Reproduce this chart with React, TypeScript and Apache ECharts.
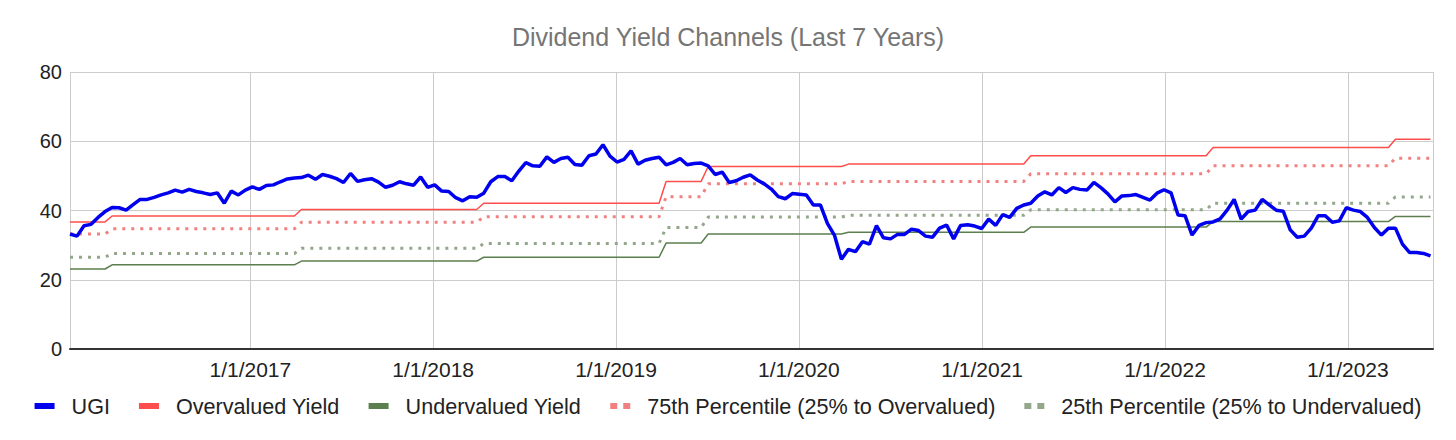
import React, { useEffect, useRef } from "react";
import * as echarts from "echarts";

// UGI dividend yield, one reading every 14 days starting 2016-01-07
const ugiStart = [2016, 0, 7];
const ugiStepDays = 14;
const ugiYield = [
  33.2, 32.6, 35.6, 36.0, 38.0, 39.7, 40.9, 40.8, 40.1, 41.7, 43.2, 43.2, 43.8, 44.5, 45.1, 45.9, 45.3, 46.1, 45.5, 45.1, 44.6, 45.1, 42.1, 45.6, 44.5, 45.9, 46.8,
  46.1, 47.2, 47.4, 48.3, 49.1, 49.4, 49.5, 50.2, 49.0, 50.4, 49.9, 49.2, 48.1, 50.7, 48.4, 48.9, 49.2, 48.2, 46.7, 47.3, 48.3, 47.7, 47.3, 49.7, 46.7, 47.4,
  45.6, 45.5, 43.7, 42.8, 44.0, 43.8, 45.0, 48.3, 49.8, 49.8, 48.6, 51.4, 53.8, 52.9, 52.8, 55.5, 53.9, 55.0, 55.4, 53.3, 53.1, 55.8, 56.3, 59.0, 55.7, 54.0,
  54.8, 57.2, 53.4, 54.5, 55.0, 55.4, 53.2, 53.9, 55.0, 53.2, 53.6, 53.7, 52.9, 50.4, 51.1, 48.1, 48.6, 49.6, 50.3, 48.8, 47.7, 46.2, 44.0, 43.4, 44.9, 44.7,
  44.5, 41.6, 41.6, 36.3, 32.9, 25.9, 28.8, 28.1, 31.0, 30.3, 35.6, 32.1, 31.8, 33.1, 33.1, 34.6, 34.2, 32.6, 32.3, 34.9, 35.8, 31.8, 35.7, 35.9, 35.5, 34.8,
  37.5, 35.7, 38.8, 38.0, 40.6, 41.6, 42.1, 44.2, 45.4, 44.5, 46.6, 45.2, 46.6, 46.1, 45.9, 48.1, 46.6, 44.8, 42.5, 44.2, 44.3, 44.6, 43.8, 43.0, 45.0, 46.0,
  45.1,
  38.7, 38.5, 32.9, 35.7, 36.5, 36.7, 37.6, 40.1, 43.2, 37.5, 39.7, 40.1, 43.2, 41.6, 40.1, 39.8, 34.4, 32.3, 32.6, 34.9, 38.5, 38.5, 36.6, 37.0, 40.8, 40.1,
  39.7, 38.0, 35.1, 32.9, 34.9, 34.9, 30.3, 27.9, 27.9, 27.6, 26.9,
];

// Channel levels: each level holds from levelStarts[i] to levelEnds[i]
const levelStarts = ["2016-01-07", "2016-03-31", "2017-04-13", "2018-04-12", "2019-04-11", "2019-07-04", "2020-04-09", "2021-04-08", "2022-04-07", "2023-04-06"];
const levelEnds = ["2016-03-17", "2017-03-30", "2018-03-29", "2019-03-28", "2019-06-20", "2020-03-26", "2021-03-25", "2022-03-24", "2023-03-23", "2023-06-15"];
const overvaluedYield = [36.7, 38.4, 40.3, 42.1, 48.4, 52.7, 53.4, 55.8, 58.2, 60.6];
const undervaluedYield = [23.1, 24.3, 25.4, 26.5, 30.6, 33.2, 33.7, 35.2, 36.8, 38.3];
const pct75Yield = [33.2, 34.7, 36.6, 38.2, 44.0, 47.7, 48.4, 50.6, 52.9, 55.1];
const pct25Yield = [26.5, 27.6, 29.1, 30.5, 35.1, 38.1, 38.6, 40.2, 42.1, 43.9];

const seriesNames = ["UGI", "Overvalued Yield", "Undervalued Yield", "75th Percentile (25% to Overvalued)", "25th Percentile (25% to Undervalued)"];
const yTicks = { min: 0, max: 80, interval: 20 };
const axisMin = [2016, 0, 7];
const axisMax = [2023, 5, 20];

const FONT = "'Liberation Sans', Arial, sans-serif";

function parseLocal(s: string): number {
  const [y, m, d] = s.split("-").map(Number);
  return new Date(y, m - 1, d).getTime();
}

function stepSeries(levels: number[]) {
  const out: [number, number][] = [];
  levels.forEach((v, i) => {
    out.push([parseLocal(levelStarts[i]), v]);
    out.push([parseLocal(levelEnds[i]), v]);
  });
  return out;
}

const DOT_ICON = "path://M0,0H7V6H0Z M13,0H20V6H13Z";

export default function App() {
  const ref = useRef<HTMLDivElement>(null);
  useEffect(() => {
    document.body.style.margin = "0";
    if (!ref.current) return;
    const chart = echarts.init(ref.current, undefined, { renderer: "svg" });
    const ugiData = ugiYield.map((v, i) => [
      new Date(ugiStart[0], ugiStart[1], ugiStart[2] + i * ugiStepDays).getTime(),
      v,
    ]);
    const day = 24 * 3600 * 1000;
    chart.setOption({
      animation: false,
      backgroundColor: "#ffffff",
      title: {
        text: "Dividend Yield Channels (Last 7 Years)",
        left: "center",
        top: 19,
        textStyle: { color: "#757575", fontSize: 25, fontWeight: "normal", fontFamily: FONT },
      },
      grid: { left: 70, right: 23, top: 72, bottom: 91, containLabel: false },
      legend: {
        top: 390,
        left: "center",
        itemWidth: 20,
        itemHeight: 6,
        itemGap: 29,
        textStyle: { fontSize: 21.6, color: "#222222", fontFamily: FONT, padding: [0, 0, 0, 12] },
        data: [
          { name: seriesNames[0], icon: "rect" },
          { name: seriesNames[1], icon: "rect" },
          { name: seriesNames[2], icon: "rect" },
          { name: seriesNames[3], icon: DOT_ICON },
          { name: seriesNames[4], icon: DOT_ICON },
        ],
      },
      xAxis: {
        type: "time",
        min: new Date(axisMin[0], axisMin[1], axisMin[2]).getTime(),
        max: new Date(axisMax[0], axisMax[1], axisMax[2]).getTime(),
        minInterval: 365 * day,
        maxInterval: 366 * day,
        axisLine: { show: true, onZero: true, lineStyle: { color: "#333333", width: 2 } },
        axisTick: { show: false },
        splitLine: { show: true, lineStyle: { color: "#cccccc", width: 1 } },
        axisLabel: {
          color: "#222222",
          fontSize: 21,
          fontFamily: FONT,
          margin: 10,
          formatter: (val: number) => {
            const d = new Date(val);
            return `${d.getMonth() + 1}/${d.getDate()}/${d.getFullYear()}`;
          },
        },
      },
      yAxis: {
        type: "value",
        min: yTicks.min,
        max: yTicks.max,
        interval: yTicks.interval,
        axisLine: { show: false },
        axisTick: { show: false },
        splitLine: { show: true, lineStyle: { color: "#cccccc", width: 1 } },
        axisLabel: { color: "#222222", fontSize: 20, fontFamily: FONT, margin: 8 },
      },
      series: [
        {
          name: seriesNames[0],
          type: "line",
          data: ugiData,
          showSymbol: false,
          color: "#0000ee",
          lineStyle: { width: 3.5, color: "#0000ee" },
          z: 10,
        },
        {
          name: seriesNames[1],
          type: "line",
          data: stepSeries(overvaluedYield),
          showSymbol: false,
          color: "#ff4d4d",
          lineStyle: { width: 1.5, color: "#ff4d4d" },
          z: 5,
        },
        {
          name: seriesNames[2],
          type: "line",
          data: stepSeries(undervaluedYield),
          showSymbol: false,
          color: "#5b7f4e",
          lineStyle: { width: 1.5, color: "#5b7f4e" },
          z: 5,
        },
        {
          name: seriesNames[3],
          type: "line",
          data: stepSeries(pct75Yield),
          showSymbol: false,
          color: "#f28080",
          lineStyle: { width: 3, color: "#f28080", type: [3, 6], cap: "butt" },
          z: 4,
        },
        {
          name: seriesNames[4],
          type: "line",
          data: stepSeries(pct25Yield),
          showSymbol: false,
          color: "#93a78b",
          lineStyle: { width: 3, color: "#93a78b", type: [3, 6], cap: "butt" },
          z: 4,
        },
      ],
    });
    return () => chart.dispose();
  }, []);
  return <div ref={ref} style={{ width: 1456, height: 440 }} />;
}
